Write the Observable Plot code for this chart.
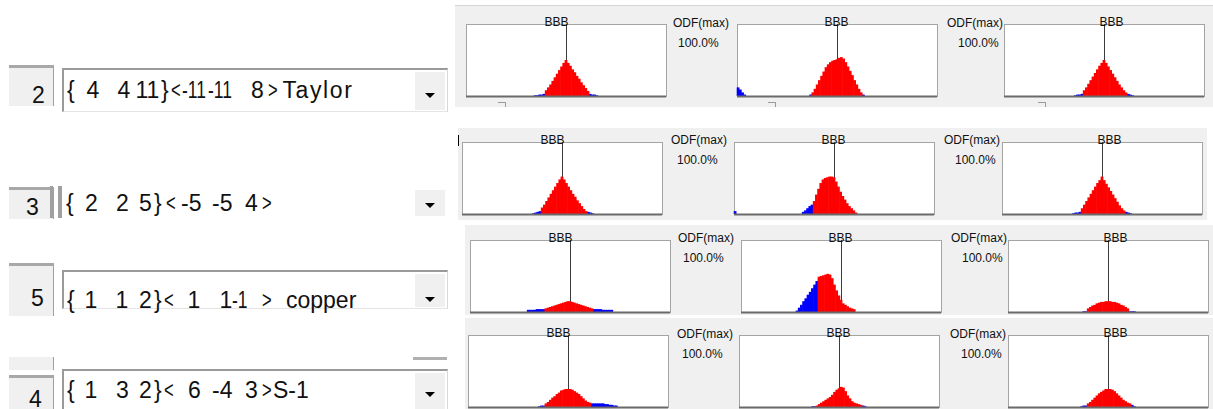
<!DOCTYPE html>
<html><head><meta charset="utf-8">
<script src="https://cdn.jsdelivr.net/npm/d3@7"></script>
<script src="https://cdn.jsdelivr.net/npm/@observablehq/plot@0.6"></script>
<style>
html,body{margin:0;padding:0;background:#fff;}
#root{position:relative;width:1213px;height:409px;overflow:hidden;background:#fff;font-family:"Liberation Sans",Arial,sans-serif;}
.strip{position:absolute;background:#f0f0f0;}
.lbl{position:absolute;font-size:12px;color:#111;line-height:12px;white-space:pre;transform:translateY(-50%);}
.tok{position:absolute;font-size:23px;line-height:23px;color:#111;white-space:pre;transform:translateY(-50%);transform-origin:left center;}
.tok.ang{transform:translateY(-50%) scaleX(0.72);}
.tok.sq{transform:translateY(-50%) scaleX(0.76);}
.tab{position:absolute;background:#f0f0f0;border-top:3px solid #a8a8a8;border-right:1px solid #a0a0a0;box-sizing:border-box;}
.combo{position:absolute;background:#fff;border-top:2px solid #9a9a9a;border-left:2px solid #9a9a9a;box-sizing:border-box;}
.btn{position:absolute;background:#f0f0f0;box-sizing:border-box;border-left:1px solid #fff;border-top:1px solid #fff;}
.arrow{position:absolute;width:0;height:0;border-left:5px solid transparent;border-right:5px solid transparent;border-top:5px solid #000;}
.bar{position:absolute;background:#a0a0a0;}
.panel{position:absolute;}
</style></head><body><div id="root"></div>
<script>
// ---------------- data ----------------
const rowNumbers = ["2", "3", "5", "4"];
const comboRow1 = ["{", "4", "4", "11", "}", "<", "-11", "-11", "8", ">", "Taylor"];
const comboRow2 = ["{", "2", "2", "5", "}", "<", "-5", "-5", "4", ">"];
const comboRow3 = ["{", "1", "1", "2", "}", "<", "1", "1", "-1", ">", "copper"];
const comboRow4 = ["{", "1", "3", "2", "}", "<", "6", "-4", "3", ">", "S-1"];
const panelTitle = "BBB";
const odfLabel = "ODF(max)";
const odfValue = "100.0%";

// histograms: segments of [first bin, heights in % of box]; bins are 1 unit wide, 0 = centre line
const r1p1 = [[-14, [1,1,2,2,3, 8,12,16,21,26,31,36,41,46,50, 46,42,37,33,28,24,19,15,11,7, 3,2,2,1]]];
const r1p2 = [[-45, [12,9,5,2]], [-12, [2, 5,10,16,22,28,34,40,44,47,49,50,51,53,54,52,47,41,35,29,22,16,10,5, 2]]];
const r1p3 = [[-13, [1,2,2,3, 8,12,17,22,27,32,37,42,46,50, 46,41,36,31,26,21,16,12,8,5, 3,2,1]]];
const r2p1 = [[-13, [1,2,3,4, 9,13,18,23,28,33,38,43,48,52, 48,43,38,33,28,24,19,15,11,7,4, 3,2,1]]];
const r2p2 = [[-45, [4]], [-14, [3,5,8,11,13, 18,27,35,43,48,50,51,52,52,51, 45,38,31,25,20,15,11,8,5,2]]];
const r2p3 = [[-13, [1,2,2,3, 8,13,18,23,28,33,38,43,47,52, 47,42,37,32,27,22,17,12,8,5, 3,2,1]]];
const r3p1 = [[-19, [3,3,3,3,4,4,4,4, 5,6,7,8,9,10,11,12,13,14,15,15,14,13,12,11,10,9,8,7,6,5, 4,4,4,4,3,3,3,3,3]]];
const r3p2 = [[-20, [2,6,10,15,19,24,28,33,38,43, 49,50,51,52,53,52,47,38,30,23,17,12,10,8,6,5,4]]];
const r3p3 = [[-11, [1,1, 5,7,9,10,12,13,14,14,15,15,15,14,14,13,12,10,9,7,5, 1,1,1]]];
const r4p1 = [[-13, [1,2,2, 5,7,10,13,15,18,20,23,24,25,25,25,24,22,20,18,15,12,9,7,6, 5,5,5,5,5,5,4,4,3,3,2,2]]];
const r4p2 = [[-12, [1,1, 2,4,6,8,10,12,14,17,21,24,26,28,27,22,16,12,8,6,5,4,3, 2,1]]];
const r4p3 = [[-12, [1,2,2, 5,7,10,13,16,19,21,23,25,25,25,24,22,19,16,13,10,8,6,5, 3,1]]];
// bins drawn in red (inclusive), others blue
const redRanges = [[-9,10],[-11,11],[-9,10],[-9,11],[-9,10],[-9,10],[-11,10],[-10,6],[-9,9],[-10,10],[-10,10],[-9,10]];
const panelData = [r1p1, r1p2, r1p3, r2p1, r2p2, r2p3, r3p1, r3p2, r3p3, r4p1, r4p2, r4p3];

// ---------------- layout ----------------
const root = document.getElementById("root");
function el(cls, css, text) {
  const e = document.createElement("div");
  e.className = cls;
  for (const k in css) e.style[k] = typeof css[k] === "number" ? css[k] + "px" : css[k];
  if (text != null) e.textContent = text;
  root.appendChild(e);
  return e;
}

// gray strips behind the histogram rows
[[455,5,758,102],[458,128,749,92],[465,225,748,90],[465,318,748,91]].forEach(([x,y,w,h]) =>
  el("strip", {left:x, top:y, width:w, height:h}));
el("bar", {left:455, top:5, width:758, height:1, background:"#d4d4d4"});

// left widgets
const combos = [comboRow1, comboRow2, comboRow3, comboRow4];
const tokX = [
  [67,86.5,117.5,135.5,161,171,181.5,207.5,251,268,282.5],
  [66,85,116,139,154,166,181,212,245,262],
  [67,84.5,115.5,139,154,164,187.5,219.5,231.5,262,286],
  [67,84.5,116,139,154,164,188,212,245,262,273]
];
const nameSpacing = [1.6, 0, 0, 0];
const rowGeo = [
  {tabTop:65, tabBot:106, comboTop:68, comboBot:112, textY:90, numX:32, numY:95, arrowY:93, full:true},
  {tabTop:187, tabBot:219, comboTop:186, comboBot:218, textY:203, numX:26, numY:207, arrowY:203, full:false},
  {tabTop:263, tabBot:316, comboTop:270, comboBot:309, textY:300, numX:31, numY:298, arrowY:297, full:true},
  {tabTop:375, tabBot:412, comboTop:369, comboBot:415, textY:390, numX:29, numY:399, arrowY:392, full:true}
];
rowGeo.forEach((g, i) => {
  el("tab", {left:9, top:g.tabTop, width:45, height:g.tabBot - g.tabTop});
  if (g.full) {
    el("combo", {left:62, top:g.comboTop, width:386, height:g.comboBot - g.comboTop, borderRight:"1px solid #d8d8d8", borderBottom:"1px solid #e4e4e4"});
  } else {
    el("bar", {left:50, top:g.comboTop, width:3, height:g.comboBot - g.comboTop});
    el("bar", {left:58, top:g.comboTop, width:4, height:g.comboBot - g.comboTop});
  }
  el("btn", {left:414, top:g.comboTop + 3, width:31, height:g.comboBot - g.comboTop - 5});
  el("arrow", {left:425, top:g.arrowY});
  el("tok", {left:g.numX, top:g.numY}, rowNumbers[i]);
  combos[i].forEach((t, j) => {
    const e = el("tok", {left:tokX[i][j], top:g.textY}, t);
    if (j === 10) e.style.letterSpacing = nameSpacing[i] + "px";
    if (t === "<" || t === ">") e.classList.add("ang");
    if (t === "-11" || t === "-1") e.classList.add("sq");
  });
});
// row 3 -> row 4 remnants
el("bar", {left:9, top:357, width:45, height:13, background:"#f0f0f0"});
el("bar", {left:53, top:357, width:1, height:13});
el("bar", {left:413, top:357, width:34, height:3, background:"#b0b0b0"});

// histogram panels
const boxes = [
  [466,24],[737,24],[1004,24],
  [462,142],[734,142],[1002,142],
  [470,240],[741,240],[1008,240],
  [468,335],[739,335],[1008,335]
];
const titleDx = [-10, -1, 7];
const BW = 200, BH = 72, ML = 1, MR = 1, MT = 20, MB = 2;

panelData.forEach((segs, p) => {
  const [lo, hi] = redRanges[p];
  const bins = [];
  segs.forEach(([start, vals]) => vals.forEach((v, i) => {
    const b = start + i;
    bins.push({b, v, red: b >= lo && b <= hi});
  }));
  const chart = Plot.plot({
    width: BW + ML + MR, height: BH + MT + MB,
    marginLeft: ML, marginRight: MR, marginTop: MT, marginBottom: MB,
    x: {domain: [-45.5, 45.5], axis: null},
    y: {domain: [0, 100], axis: null},
    style: {background: "transparent", fontFamily: "Liberation Sans, Arial, sans-serif", overflow: "visible"},
    marks: [
      Plot.frame({fill: "white", stroke: "#a4a4a4"}),
      Plot.ruleX([0], {stroke: "#3c3c3c", strokeWidth: 1}),
      Plot.rectY(bins.filter(d => !d.red), {x1: d => d.b - 0.5, x2: d => d.b + 0.5, y: "v", fill: "#0000ff", insetLeft: -0.3, insetRight: -0.3}),
      Plot.rectY(bins.filter(d => d.red), {x1: d => d.b - 0.5, x2: d => d.b + 0.5, y: "v", fill: "#ff0000", insetLeft: -0.3, insetRight: -0.3}),
      Plot.ruleY([0], {stroke: "#6a6a6a", strokeWidth: 2}),
      Plot.text([panelTitle], {frameAnchor: "top", dy: -7, dx: titleDx[p % 3], fontSize: 12, fill: "#111"})
    ]
  });
  const [bx, by] = boxes[p];
  chart.classList.add("panel");
  chart.style.position = "absolute";
  chart.style.left = (bx - ML) + "px";
  chart.style.top = (by - MT) + "px";
  root.appendChild(chart);
});

// ODF(max) labels between panels
const odfPos = [
  [673,23,678,43],[947,23,958,43],
  [671,140,677,160],[944,140,955,160],
  [678,238,683,258],[951,238,962,258],
  [677,334,682,354],[950,334,961,354]
];
odfPos.forEach(([x1,y1,x2,y2]) => {
  el("lbl", {left:x1, top:y1}, odfLabel);
  el("lbl", {left:x2, top:y2}, odfValue);
});
// small marks
el("bar", {left:458, top:135, width:1, height:11, background:"#000"});
[498, 768, 1038].forEach(x => {
  el("bar", {left:x, top:102, width:8, height:1, background:"#9a9a9a"});
  el("bar", {left:x + 7, top:102, width:1, height:5, background:"#9a9a9a"});
});
</script></body></html>
